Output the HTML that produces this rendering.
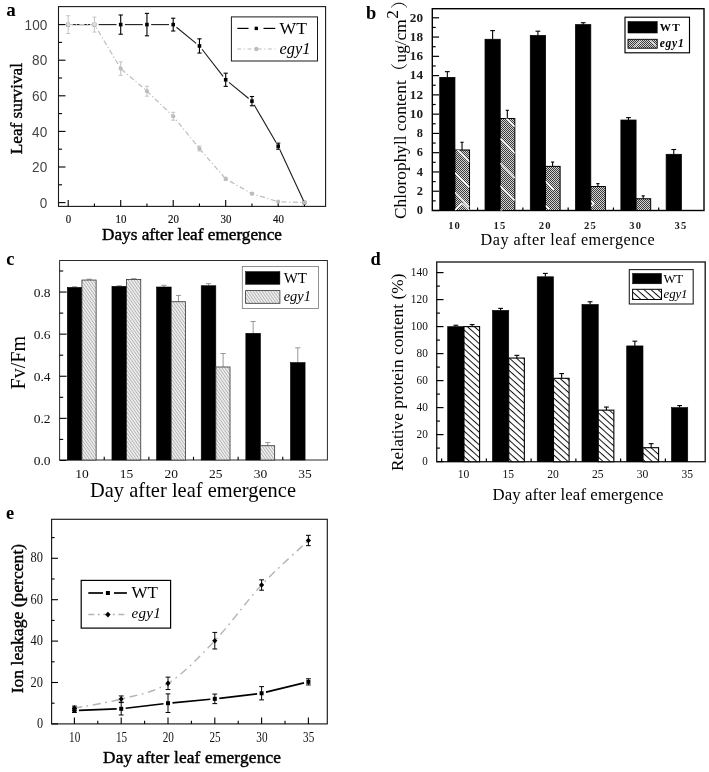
<!DOCTYPE html>
<html lang="en"><head><meta charset="utf-8"><title>Figure</title>
<style>html,body{margin:0;padding:0;background:#fff;}svg{display:block}</style></head><body>
<svg width="709" height="772" viewBox="0 0 709 772">
<defs>
<pattern id="pb" patternUnits="userSpaceOnUse" width="2" height="2"><rect width="2" height="2" fill="#d4d4d4"/><rect width="1" height="1" fill="#3a3a3a"/><rect x="1" y="1" width="1" height="1" fill="#3a3a3a"/></pattern>
<pattern id="pc" patternUnits="userSpaceOnUse" width="2.4" height="2.4" patternTransform="rotate(55)"><rect width="2.4" height="2.4" fill="#f0f0f0"/><rect width="2.4" height="0.9" fill="#b0b0b0"/></pattern>
<pattern id="pd" patternUnits="userSpaceOnUse" width="4.7" height="4.7" patternTransform="rotate(42)"><rect width="4.7" height="4.7" fill="#fff"/><rect width="4.7" height="1.0" fill="#111"/></pattern>
<filter id="soft" x="0" y="0" width="709" height="772" filterUnits="userSpaceOnUse" color-interpolation-filters="sRGB"><feGaussianBlur stdDeviation="0.35"/></filter>
</defs>
<rect width="709" height="772" fill="#fff"/>
<g filter="url(#soft)">
<rect width="709" height="772" fill="#fff"/>
<rect x="58.50" y="6.60" width="267.10" height="199.80" fill="none" stroke="#1a1a1a" stroke-width="1.1" />
<line x1="58.50" y1="202.60" x2="65.50" y2="202.60" stroke="#000" stroke-width="1.1" />
<line x1="58.50" y1="184.80" x2="62.00" y2="184.80" stroke="#000" stroke-width="1.1" />
<line x1="58.50" y1="167.00" x2="65.50" y2="167.00" stroke="#000" stroke-width="1.1" />
<line x1="58.50" y1="149.20" x2="62.00" y2="149.20" stroke="#000" stroke-width="1.1" />
<line x1="58.50" y1="131.40" x2="65.50" y2="131.40" stroke="#000" stroke-width="1.1" />
<line x1="58.50" y1="113.60" x2="62.00" y2="113.60" stroke="#000" stroke-width="1.1" />
<line x1="58.50" y1="95.80" x2="65.50" y2="95.80" stroke="#000" stroke-width="1.1" />
<line x1="58.50" y1="78.00" x2="62.00" y2="78.00" stroke="#000" stroke-width="1.1" />
<line x1="58.50" y1="60.20" x2="65.50" y2="60.20" stroke="#000" stroke-width="1.1" />
<line x1="58.50" y1="42.40" x2="62.00" y2="42.40" stroke="#000" stroke-width="1.1" />
<line x1="58.50" y1="24.60" x2="65.50" y2="24.60" stroke="#000" stroke-width="1.1" />
<line x1="68.20" y1="206.40" x2="68.20" y2="199.90" stroke="#000" stroke-width="1.1" />
<line x1="94.45" y1="206.40" x2="94.45" y2="203.40" stroke="#000" stroke-width="1.1" />
<line x1="120.70" y1="206.40" x2="120.70" y2="199.90" stroke="#000" stroke-width="1.1" />
<line x1="146.95" y1="206.40" x2="146.95" y2="203.40" stroke="#000" stroke-width="1.1" />
<line x1="173.20" y1="206.40" x2="173.20" y2="199.90" stroke="#000" stroke-width="1.1" />
<line x1="199.45" y1="206.40" x2="199.45" y2="203.40" stroke="#000" stroke-width="1.1" />
<line x1="225.70" y1="206.40" x2="225.70" y2="199.90" stroke="#000" stroke-width="1.1" />
<line x1="251.95" y1="206.40" x2="251.95" y2="203.40" stroke="#000" stroke-width="1.1" />
<line x1="278.20" y1="206.40" x2="278.20" y2="199.90" stroke="#000" stroke-width="1.1" />
<line x1="304.45" y1="206.40" x2="304.45" y2="203.40" stroke="#000" stroke-width="1.1" />
<text x="47.20" y="207.70" font-family='"Liberation Sans", sans-serif' font-size="14.3" text-anchor="end" font-weight="normal" font-style="normal" fill="#444" textLength="7.5" lengthAdjust="spacingAndGlyphs" >0</text>
<text x="47.20" y="172.10" font-family='"Liberation Sans", sans-serif' font-size="14.3" text-anchor="end" font-weight="normal" font-style="normal" fill="#444" textLength="15.1" lengthAdjust="spacingAndGlyphs" >20</text>
<text x="47.20" y="136.50" font-family='"Liberation Sans", sans-serif' font-size="14.3" text-anchor="end" font-weight="normal" font-style="normal" fill="#444" textLength="15.1" lengthAdjust="spacingAndGlyphs" >40</text>
<text x="47.20" y="100.90" font-family='"Liberation Sans", sans-serif' font-size="14.3" text-anchor="end" font-weight="normal" font-style="normal" fill="#444" textLength="15.1" lengthAdjust="spacingAndGlyphs" >60</text>
<text x="47.20" y="65.30" font-family='"Liberation Sans", sans-serif' font-size="14.3" text-anchor="end" font-weight="normal" font-style="normal" fill="#444" textLength="15.1" lengthAdjust="spacingAndGlyphs" >80</text>
<text x="47.20" y="29.70" font-family='"Liberation Sans", sans-serif' font-size="14.3" text-anchor="end" font-weight="normal" font-style="normal" fill="#444" textLength="22.6" lengthAdjust="spacingAndGlyphs" >100</text>
<text x="68.50" y="223.40" font-family='"Liberation Serif", serif' font-size="13" text-anchor="middle" font-weight="normal" font-style="normal" fill="#111" textLength="5.4" lengthAdjust="spacingAndGlyphs" stroke="#111" stroke-width="0.2">0</text>
<text x="121.00" y="223.40" font-family='"Liberation Serif", serif' font-size="13" text-anchor="middle" font-weight="normal" font-style="normal" fill="#111" textLength="10.9" lengthAdjust="spacingAndGlyphs" stroke="#111" stroke-width="0.2">10</text>
<text x="173.50" y="223.40" font-family='"Liberation Serif", serif' font-size="13" text-anchor="middle" font-weight="normal" font-style="normal" fill="#111" textLength="10.9" lengthAdjust="spacingAndGlyphs" stroke="#111" stroke-width="0.2">20</text>
<text x="226.00" y="223.40" font-family='"Liberation Serif", serif' font-size="13" text-anchor="middle" font-weight="normal" font-style="normal" fill="#111" textLength="10.9" lengthAdjust="spacingAndGlyphs" stroke="#111" stroke-width="0.2">30</text>
<text x="278.50" y="223.40" font-family='"Liberation Serif", serif' font-size="13" text-anchor="middle" font-weight="normal" font-style="normal" fill="#111" textLength="10.9" lengthAdjust="spacingAndGlyphs" stroke="#111" stroke-width="0.2">40</text>
<text x="192.00" y="239.80" font-family='"Liberation Serif", serif' font-size="17.2" text-anchor="middle" font-weight="normal" font-style="normal" fill="#000" textLength="180" lengthAdjust="spacing" stroke="#000" stroke-width="0.45">Days after leaf emergence</text>
<text x="21.80" y="108.60" font-family='"Liberation Serif", serif' font-size="17.2" text-anchor="middle" font-weight="normal" font-style="normal" fill="#000" transform="rotate(-90 21.80 108.60)" stroke="#000" stroke-width="0.4">Leaf survival</text>
<text x="6.20" y="16.30" font-family='"Liberation Serif", serif' font-size="19" text-anchor="start" font-weight="bold" font-style="normal" fill="#000" >a</text>
<line x1="72.40" y1="24.60" x2="90.25" y2="24.60" stroke="#1c1c1c" stroke-width="1.1" />
<line x1="98.65" y1="24.60" x2="116.50" y2="24.60" stroke="#1c1c1c" stroke-width="1.1" />
<line x1="124.90" y1="24.60" x2="142.75" y2="24.60" stroke="#1c1c1c" stroke-width="1.1" />
<line x1="151.15" y1="24.60" x2="169.00" y2="24.60" stroke="#1c1c1c" stroke-width="1.1" />
<line x1="176.46" y1="27.25" x2="196.19" y2="43.31" stroke="#1c1c1c" stroke-width="1.1" />
<line x1="202.03" y1="49.28" x2="223.12" y2="76.46" stroke="#1c1c1c" stroke-width="1.1" />
<line x1="228.96" y1="82.43" x2="248.69" y2="98.49" stroke="#1c1c1c" stroke-width="1.1" />
<line x1="254.07" y1="104.77" x2="276.08" y2="142.55" stroke="#1c1c1c" stroke-width="1.1" />
<line x1="279.97" y1="149.98" x2="304.24" y2="202.15" stroke="#1c1c1c" stroke-width="1.1" />
<line x1="120.70" y1="14.99" x2="120.70" y2="34.21" stroke="#000" stroke-width="1.1" />
<line x1="118.60" y1="14.99" x2="122.80" y2="14.99" stroke="#000" stroke-width="1.1" />
<line x1="118.60" y1="34.21" x2="122.80" y2="34.21" stroke="#000" stroke-width="1.1" />
<line x1="146.95" y1="13.39" x2="146.95" y2="35.81" stroke="#000" stroke-width="1.1" />
<line x1="144.85" y1="13.39" x2="149.05" y2="13.39" stroke="#000" stroke-width="1.1" />
<line x1="144.85" y1="35.81" x2="149.05" y2="35.81" stroke="#000" stroke-width="1.1" />
<line x1="173.20" y1="18.19" x2="173.20" y2="31.01" stroke="#000" stroke-width="1.1" />
<line x1="171.10" y1="18.19" x2="175.30" y2="18.19" stroke="#000" stroke-width="1.1" />
<line x1="171.10" y1="31.01" x2="175.30" y2="31.01" stroke="#000" stroke-width="1.1" />
<line x1="199.45" y1="38.84" x2="199.45" y2="53.08" stroke="#000" stroke-width="1.1" />
<line x1="197.35" y1="38.84" x2="201.55" y2="38.84" stroke="#000" stroke-width="1.1" />
<line x1="197.35" y1="53.08" x2="201.55" y2="53.08" stroke="#000" stroke-width="1.1" />
<line x1="225.70" y1="73.19" x2="225.70" y2="86.37" stroke="#000" stroke-width="1.1" />
<line x1="223.60" y1="73.19" x2="227.80" y2="73.19" stroke="#000" stroke-width="1.1" />
<line x1="223.60" y1="86.37" x2="227.80" y2="86.37" stroke="#000" stroke-width="1.1" />
<line x1="251.95" y1="96.51" x2="251.95" y2="105.77" stroke="#000" stroke-width="1.1" />
<line x1="249.85" y1="96.51" x2="254.05" y2="96.51" stroke="#000" stroke-width="1.1" />
<line x1="249.85" y1="105.77" x2="254.05" y2="105.77" stroke="#000" stroke-width="1.1" />
<line x1="278.20" y1="143.15" x2="278.20" y2="149.20" stroke="#000" stroke-width="1.1" />
<line x1="276.10" y1="143.15" x2="280.30" y2="143.15" stroke="#000" stroke-width="1.1" />
<line x1="276.10" y1="149.20" x2="280.30" y2="149.20" stroke="#000" stroke-width="1.1" />
<rect x="66.40" y="22.80" width="3.60" height="3.60" fill="#000" stroke="none" stroke-width="0" />
<rect x="92.65" y="22.80" width="3.60" height="3.60" fill="#000" stroke="none" stroke-width="0" />
<rect x="118.90" y="22.80" width="3.60" height="3.60" fill="#000" stroke="none" stroke-width="0" />
<rect x="145.15" y="22.80" width="3.60" height="3.60" fill="#000" stroke="none" stroke-width="0" />
<rect x="171.40" y="22.80" width="3.60" height="3.60" fill="#000" stroke="none" stroke-width="0" />
<rect x="197.65" y="44.16" width="3.60" height="3.60" fill="#000" stroke="none" stroke-width="0" />
<rect x="223.90" y="77.98" width="3.60" height="3.60" fill="#000" stroke="none" stroke-width="0" />
<rect x="250.15" y="99.34" width="3.60" height="3.60" fill="#000" stroke="none" stroke-width="0" />
<rect x="276.40" y="144.37" width="3.60" height="3.60" fill="#000" stroke="none" stroke-width="0" />
<rect x="302.65" y="200.80" width="3.60" height="3.60" fill="#000" stroke="none" stroke-width="0" />
<polyline points="68.20,24.60 94.45,24.60 120.70,68.57 146.95,91.17 173.20,116.27 199.45,148.49 225.70,178.93 251.95,193.70 278.20,201.71 304.45,202.60" fill="none" stroke="#bdbdbd" stroke-width="1.2" stroke-dasharray="5 2.5 1.2 2.5"/>
<line x1="68.20" y1="15.70" x2="68.20" y2="33.50" stroke="#c6c6c6" stroke-width="1.05" />
<line x1="66.20" y1="15.70" x2="70.20" y2="15.70" stroke="#c6c6c6" stroke-width="1.05" />
<line x1="66.20" y1="33.50" x2="70.20" y2="33.50" stroke="#c6c6c6" stroke-width="1.05" />
<line x1="94.45" y1="17.12" x2="94.45" y2="32.08" stroke="#c6c6c6" stroke-width="1.05" />
<line x1="92.45" y1="17.12" x2="96.45" y2="17.12" stroke="#c6c6c6" stroke-width="1.05" />
<line x1="92.45" y1="32.08" x2="96.45" y2="32.08" stroke="#c6c6c6" stroke-width="1.05" />
<line x1="120.70" y1="61.80" x2="120.70" y2="75.33" stroke="#c6c6c6" stroke-width="1.05" />
<line x1="118.70" y1="61.80" x2="122.70" y2="61.80" stroke="#c6c6c6" stroke-width="1.05" />
<line x1="118.70" y1="75.33" x2="122.70" y2="75.33" stroke="#c6c6c6" stroke-width="1.05" />
<line x1="146.95" y1="86.19" x2="146.95" y2="96.16" stroke="#c6c6c6" stroke-width="1.05" />
<line x1="144.95" y1="86.19" x2="148.95" y2="86.19" stroke="#c6c6c6" stroke-width="1.05" />
<line x1="144.95" y1="96.16" x2="148.95" y2="96.16" stroke="#c6c6c6" stroke-width="1.05" />
<line x1="173.20" y1="112.35" x2="173.20" y2="120.19" stroke="#c6c6c6" stroke-width="1.05" />
<line x1="171.20" y1="112.35" x2="175.20" y2="112.35" stroke="#c6c6c6" stroke-width="1.05" />
<line x1="171.20" y1="120.19" x2="175.20" y2="120.19" stroke="#c6c6c6" stroke-width="1.05" />
<line x1="199.45" y1="146.00" x2="199.45" y2="150.98" stroke="#c6c6c6" stroke-width="1.05" />
<line x1="197.45" y1="146.00" x2="201.45" y2="146.00" stroke="#c6c6c6" stroke-width="1.05" />
<line x1="197.45" y1="150.98" x2="201.45" y2="150.98" stroke="#c6c6c6" stroke-width="1.05" />
<line x1="225.70" y1="177.32" x2="225.70" y2="180.53" stroke="#c6c6c6" stroke-width="1.05" />
<line x1="223.70" y1="177.32" x2="227.70" y2="177.32" stroke="#c6c6c6" stroke-width="1.05" />
<line x1="223.70" y1="180.53" x2="227.70" y2="180.53" stroke="#c6c6c6" stroke-width="1.05" />
<line x1="251.95" y1="192.63" x2="251.95" y2="194.77" stroke="#c6c6c6" stroke-width="1.05" />
<line x1="249.95" y1="192.63" x2="253.95" y2="192.63" stroke="#c6c6c6" stroke-width="1.05" />
<line x1="249.95" y1="194.77" x2="253.95" y2="194.77" stroke="#c6c6c6" stroke-width="1.05" />
<circle cx="68.20" cy="24.60" r="2.1" fill="#dcdcdc"/>
<circle cx="94.45" cy="24.60" r="2.1" fill="#dcdcdc"/>
<circle cx="120.70" cy="68.57" r="2.1" fill="#bdbdbd"/>
<circle cx="146.95" cy="91.17" r="2.1" fill="#bdbdbd"/>
<circle cx="173.20" cy="116.27" r="2.1" fill="#bdbdbd"/>
<circle cx="199.45" cy="148.49" r="2.1" fill="#bdbdbd"/>
<circle cx="225.70" cy="178.93" r="2.1" fill="#bdbdbd"/>
<circle cx="251.95" cy="193.70" r="2.1" fill="#bdbdbd"/>
<circle cx="278.20" cy="201.71" r="2.1" fill="#bdbdbd"/>
<circle cx="304.45" cy="202.60" r="2.1" fill="#bdbdbd"/>
<rect x="231.40" y="16.90" width="86.10" height="44.10" fill="#fff" stroke="#1a1a1a" stroke-width="1.0" />
<line x1="237.30" y1="28.40" x2="248.50" y2="28.40" stroke="#000" stroke-width="1.2" />
<line x1="263.50" y1="28.40" x2="275.30" y2="28.40" stroke="#000" stroke-width="1.2" />
<rect x="254.60" y="26.70" width="3.40" height="3.40" fill="#000" stroke="none" stroke-width="0" />
<line x1="237.3" y1="49" x2="275.3" y2="49" stroke="#bdbdbd" stroke-width="1.1" stroke-dasharray="4 2.5 1.2 2.5"/>
<circle cx="256.3" cy="49" r="2.2" fill="#bdbdbd"/>
<text x="279.60" y="34.30" font-family='"Liberation Serif", serif' font-size="17.6" text-anchor="start" font-weight="normal" font-style="normal" fill="#000" >WT</text>
<text x="279.60" y="54.40" font-family='"Liberation Serif", serif' font-size="16.4" text-anchor="start" font-weight="normal" font-style="italic" fill="#000" >egy1</text>
<rect x="432.30" y="8.70" width="271.70" height="201.80" fill="none" stroke="#000" stroke-width="1.4" />
<line x1="432.30" y1="210.50" x2="439.10" y2="210.50" stroke="#000" stroke-width="1.2" />
<line x1="432.30" y1="200.87" x2="435.70" y2="200.87" stroke="#000" stroke-width="1.2" />
<line x1="432.30" y1="191.23" x2="439.10" y2="191.23" stroke="#000" stroke-width="1.2" />
<line x1="432.30" y1="181.59" x2="435.70" y2="181.59" stroke="#000" stroke-width="1.2" />
<line x1="432.30" y1="171.96" x2="439.10" y2="171.96" stroke="#000" stroke-width="1.2" />
<line x1="432.30" y1="162.32" x2="435.70" y2="162.32" stroke="#000" stroke-width="1.2" />
<line x1="432.30" y1="152.69" x2="439.10" y2="152.69" stroke="#000" stroke-width="1.2" />
<line x1="432.30" y1="143.06" x2="435.70" y2="143.06" stroke="#000" stroke-width="1.2" />
<line x1="432.30" y1="133.42" x2="439.10" y2="133.42" stroke="#000" stroke-width="1.2" />
<line x1="432.30" y1="123.78" x2="435.70" y2="123.78" stroke="#000" stroke-width="1.2" />
<line x1="432.30" y1="114.15" x2="439.10" y2="114.15" stroke="#000" stroke-width="1.2" />
<line x1="432.30" y1="104.52" x2="435.70" y2="104.52" stroke="#000" stroke-width="1.2" />
<line x1="432.30" y1="94.88" x2="439.10" y2="94.88" stroke="#000" stroke-width="1.2" />
<line x1="432.30" y1="85.25" x2="435.70" y2="85.25" stroke="#000" stroke-width="1.2" />
<line x1="432.30" y1="75.61" x2="439.10" y2="75.61" stroke="#000" stroke-width="1.2" />
<line x1="432.30" y1="65.97" x2="435.70" y2="65.97" stroke="#000" stroke-width="1.2" />
<line x1="432.30" y1="56.34" x2="439.10" y2="56.34" stroke="#000" stroke-width="1.2" />
<line x1="432.30" y1="46.71" x2="435.70" y2="46.71" stroke="#000" stroke-width="1.2" />
<line x1="432.30" y1="37.07" x2="439.10" y2="37.07" stroke="#000" stroke-width="1.2" />
<line x1="432.30" y1="27.44" x2="435.70" y2="27.44" stroke="#000" stroke-width="1.2" />
<line x1="432.30" y1="17.80" x2="439.10" y2="17.80" stroke="#000" stroke-width="1.2" />
<line x1="477.58" y1="210.50" x2="477.58" y2="207.50" stroke="#000" stroke-width="1.2" />
<line x1="522.87" y1="210.50" x2="522.87" y2="207.50" stroke="#000" stroke-width="1.2" />
<line x1="568.15" y1="210.50" x2="568.15" y2="207.50" stroke="#000" stroke-width="1.2" />
<line x1="613.43" y1="210.50" x2="613.43" y2="207.50" stroke="#000" stroke-width="1.2" />
<line x1="658.72" y1="210.50" x2="658.72" y2="207.50" stroke="#000" stroke-width="1.2" />
<text x="423.00" y="214.30" font-family='"Liberation Serif", serif' font-size="11.6" text-anchor="end" font-weight="bold" font-style="normal" fill="#1c1c1c" textLength="6.2" lengthAdjust="spacingAndGlyphs" >0</text>
<text x="423.00" y="195.03" font-family='"Liberation Serif", serif' font-size="11.6" text-anchor="end" font-weight="bold" font-style="normal" fill="#1c1c1c" textLength="6.2" lengthAdjust="spacingAndGlyphs" >2</text>
<text x="423.00" y="175.76" font-family='"Liberation Serif", serif' font-size="11.6" text-anchor="end" font-weight="bold" font-style="normal" fill="#1c1c1c" textLength="6.2" lengthAdjust="spacingAndGlyphs" >4</text>
<text x="423.00" y="156.49" font-family='"Liberation Serif", serif' font-size="11.6" text-anchor="end" font-weight="bold" font-style="normal" fill="#1c1c1c" textLength="6.2" lengthAdjust="spacingAndGlyphs" >6</text>
<text x="423.00" y="137.22" font-family='"Liberation Serif", serif' font-size="11.6" text-anchor="end" font-weight="bold" font-style="normal" fill="#1c1c1c" textLength="6.2" lengthAdjust="spacingAndGlyphs" >8</text>
<text x="423.00" y="117.95" font-family='"Liberation Serif", serif' font-size="11.6" text-anchor="end" font-weight="bold" font-style="normal" fill="#1c1c1c" textLength="13.2" lengthAdjust="spacingAndGlyphs" >10</text>
<text x="423.00" y="98.68" font-family='"Liberation Serif", serif' font-size="11.6" text-anchor="end" font-weight="bold" font-style="normal" fill="#1c1c1c" textLength="13.2" lengthAdjust="spacingAndGlyphs" >12</text>
<text x="423.00" y="79.41" font-family='"Liberation Serif", serif' font-size="11.6" text-anchor="end" font-weight="bold" font-style="normal" fill="#1c1c1c" textLength="13.2" lengthAdjust="spacingAndGlyphs" >14</text>
<text x="423.00" y="60.14" font-family='"Liberation Serif", serif' font-size="11.6" text-anchor="end" font-weight="bold" font-style="normal" fill="#1c1c1c" textLength="13.2" lengthAdjust="spacingAndGlyphs" >16</text>
<text x="423.00" y="40.87" font-family='"Liberation Serif", serif' font-size="11.6" text-anchor="end" font-weight="bold" font-style="normal" fill="#1c1c1c" textLength="13.2" lengthAdjust="spacingAndGlyphs" >18</text>
<text x="423.00" y="21.60" font-family='"Liberation Serif", serif' font-size="11.6" text-anchor="end" font-weight="bold" font-style="normal" fill="#1c1c1c" textLength="13.2" lengthAdjust="spacingAndGlyphs" >20</text>
<line x1="447.34" y1="77.44" x2="447.34" y2="71.66" stroke="#000" stroke-width="1.1" />
<line x1="444.94" y1="71.66" x2="449.74" y2="71.66" stroke="#000" stroke-width="1.1" />
<rect x="439.74" y="77.44" width="15.20" height="133.06" fill="#000" stroke="#000" stroke-width="0.8" />
<line x1="462.04" y1="149.99" x2="462.04" y2="142.28" stroke="#000" stroke-width="1.1" />
<line x1="460.44" y1="142.28" x2="463.64" y2="142.28" stroke="#000" stroke-width="1.1" />
<g><clipPath id="cb0"><rect x="454.94" y="149.99" width="14.60" height="60.51"/></clipPath>
<rect x="454.94" y="149.99" width="14.60" height="60.51" fill="url(#pb)" stroke="#000" stroke-width="1.0" />
<g clip-path="url(#cb0)" stroke="#fff" stroke-width="1.35">
<line x1="454.94" y1="147.40" x2="469.54" y2="162.00"/>
<line x1="454.94" y1="172.70" x2="469.54" y2="187.30"/>
<line x1="454.94" y1="192.30" x2="469.54" y2="206.90"/>
<line x1="454.94" y1="210.30" x2="462.24" y2="203.30"/>
<line x1="462.24" y1="203.30" x2="469.54" y2="210.30"/>
</g></g>
<text x="454.64" y="228.60" font-family='"Liberation Serif", serif' font-size="10.6" text-anchor="middle" font-weight="bold" font-style="normal" fill="#1c1c1c" letter-spacing="1.2">10</text>
<line x1="492.62" y1="39.29" x2="492.62" y2="30.61" stroke="#000" stroke-width="1.1" />
<line x1="490.23" y1="30.61" x2="495.02" y2="30.61" stroke="#000" stroke-width="1.1" />
<rect x="485.03" y="39.29" width="15.20" height="171.21" fill="#000" stroke="#000" stroke-width="0.8" />
<line x1="507.33" y1="118.49" x2="507.33" y2="110.30" stroke="#000" stroke-width="1.1" />
<line x1="505.73" y1="110.30" x2="508.93" y2="110.30" stroke="#000" stroke-width="1.1" />
<g><clipPath id="cb1"><rect x="500.23" y="118.49" width="14.60" height="92.01"/></clipPath>
<rect x="500.23" y="118.49" width="14.60" height="92.01" fill="url(#pb)" stroke="#000" stroke-width="1.0" />
<g clip-path="url(#cb1)" stroke="#fff" stroke-width="1.35">
<line x1="500.23" y1="111.90" x2="514.83" y2="126.50"/>
<line x1="500.23" y1="138.70" x2="514.83" y2="153.30"/>
<line x1="500.23" y1="163.30" x2="514.83" y2="177.90"/>
<line x1="500.23" y1="185.70" x2="514.83" y2="200.30"/>
<line x1="500.23" y1="209.50" x2="514.83" y2="224.10"/>
</g></g>
<text x="499.93" y="228.60" font-family='"Liberation Serif", serif' font-size="10.6" text-anchor="middle" font-weight="bold" font-style="normal" fill="#1c1c1c" letter-spacing="1.2">15</text>
<line x1="537.91" y1="35.53" x2="537.91" y2="31.19" stroke="#000" stroke-width="1.1" />
<line x1="535.51" y1="31.19" x2="540.31" y2="31.19" stroke="#000" stroke-width="1.1" />
<rect x="530.31" y="35.53" width="15.20" height="174.97" fill="#000" stroke="#000" stroke-width="0.8" />
<line x1="552.61" y1="166.37" x2="552.61" y2="162.04" stroke="#000" stroke-width="1.1" />
<line x1="551.01" y1="162.04" x2="554.21" y2="162.04" stroke="#000" stroke-width="1.1" />
<g><clipPath id="cb2"><rect x="545.51" y="166.37" width="14.60" height="44.13"/></clipPath>
<rect x="545.51" y="166.37" width="14.60" height="44.13" fill="url(#pb)" stroke="#000" stroke-width="1.0" />
<g clip-path="url(#cb2)" stroke="#fff" stroke-width="1.35">
<line x1="545.51" y1="180.90" x2="553.61" y2="189.80"/>
<line x1="545.51" y1="205.50" x2="549.01" y2="209.00"/>
</g></g>
<text x="545.21" y="228.60" font-family='"Liberation Serif", serif' font-size="10.6" text-anchor="middle" font-weight="bold" font-style="normal" fill="#1c1c1c" letter-spacing="1.2">20</text>
<line x1="583.19" y1="24.64" x2="583.19" y2="22.71" stroke="#000" stroke-width="1.1" />
<line x1="580.79" y1="22.71" x2="585.59" y2="22.71" stroke="#000" stroke-width="1.1" />
<rect x="575.59" y="24.64" width="15.20" height="185.86" fill="#000" stroke="#000" stroke-width="0.8" />
<line x1="597.89" y1="186.51" x2="597.89" y2="183.62" stroke="#000" stroke-width="1.1" />
<line x1="596.29" y1="183.62" x2="599.49" y2="183.62" stroke="#000" stroke-width="1.1" />
<g><clipPath id="cb3"><rect x="590.79" y="186.51" width="14.60" height="23.99"/></clipPath>
<rect x="590.79" y="186.51" width="14.60" height="23.99" fill="url(#pb)" stroke="#000" stroke-width="1.0" />
<g clip-path="url(#cb3)" stroke="#fff" stroke-width="1.35">
<line x1="591.29" y1="201.00" x2="594.09" y2="203.80"/>
<line x1="594.09" y1="203.80" x2="591.29" y2="206.30"/>
</g></g>
<text x="590.49" y="228.60" font-family='"Liberation Serif", serif' font-size="10.6" text-anchor="middle" font-weight="bold" font-style="normal" fill="#1c1c1c" letter-spacing="1.2">25</text>
<line x1="628.48" y1="120.03" x2="628.48" y2="117.62" stroke="#000" stroke-width="1.1" />
<line x1="626.08" y1="117.62" x2="630.88" y2="117.62" stroke="#000" stroke-width="1.1" />
<rect x="620.88" y="120.03" width="15.20" height="90.47" fill="#000" stroke="#000" stroke-width="0.8" />
<line x1="643.18" y1="198.75" x2="643.18" y2="195.85" stroke="#000" stroke-width="1.1" />
<line x1="641.58" y1="195.85" x2="644.78" y2="195.85" stroke="#000" stroke-width="1.1" />
<g><clipPath id="cb4"><rect x="636.08" y="198.75" width="14.60" height="11.75"/></clipPath>
<rect x="636.08" y="198.75" width="14.60" height="11.75" fill="url(#pb)" stroke="#000" stroke-width="1.0" />
<g clip-path="url(#cb4)" stroke="#fff" stroke-width="1.35">
</g></g>
<text x="635.78" y="228.60" font-family='"Liberation Serif", serif' font-size="10.6" text-anchor="middle" font-weight="bold" font-style="normal" fill="#1c1c1c" letter-spacing="1.2">30</text>
<line x1="673.76" y1="154.33" x2="673.76" y2="149.51" stroke="#000" stroke-width="1.1" />
<line x1="671.36" y1="149.51" x2="676.16" y2="149.51" stroke="#000" stroke-width="1.1" />
<rect x="666.16" y="154.33" width="15.20" height="56.17" fill="#000" stroke="#000" stroke-width="0.8" />
<text x="681.06" y="228.60" font-family='"Liberation Serif", serif' font-size="10.6" text-anchor="middle" font-weight="bold" font-style="normal" fill="#1c1c1c" letter-spacing="1.2">35</text>
<text x="567.60" y="244.60" font-family='"Liberation Serif", serif' font-size="16.2" text-anchor="middle" font-weight="normal" font-style="normal" fill="#000" textLength="174" lengthAdjust="spacing" >Day after leaf emergence</text>
<g transform="translate(405.5,219) rotate(-90)">
<text x='0' y='0' font-family='"Liberation Serif","Noto Serif CJK SC",serif' font-size='17.3' fill='#000'>Chlorophyll content<tspan dx='0'>（</tspan><tspan dx='0.5'>ug/cm</tspan><tspan dy='-7.4' dx='0.5'>2</tspan><tspan dy='7.4' dx='1.5'>）</tspan></text>
</g>
<text x="366.00" y="19.00" font-family='"Liberation Serif", serif' font-size="18.4" text-anchor="start" font-weight="bold" font-style="normal" fill="#000" >b</text>
<rect x="625.00" y="17.20" width="64.50" height="35.60" fill="#fff" stroke="#000" stroke-width="1.15" />
<rect x="628.00" y="21.60" width="29.20" height="11.40" fill="#000" stroke="#000" stroke-width="0.6" />
<rect x="628.00" y="39.30" width="29.20" height="8.90" fill="url(#pb)" stroke="#000" stroke-width="0.9" />
<line x1="634" y1="47.5" x2="641" y2="40.5" stroke="#fff" stroke-width="0.9"/><line x1="650" y1="40.5" x2="656.5" y2="46" stroke="#fff" stroke-width="0.9"/><line x1="636" y1="48" x2="642" y2="42" stroke="#fff" stroke-width="0.7"/>
<text x="659.70" y="31.00" font-family='"Liberation Serif", serif' font-size="11.2" text-anchor="start" font-weight="bold" font-style="normal" fill="#000" textLength="20" lengthAdjust="spacing" >WT</text>
<text x="659.70" y="47.00" font-family='"Liberation Serif", serif' font-size="11.6" text-anchor="start" font-weight="bold" font-style="italic" fill="#000" textLength="24" lengthAdjust="spacing" >egy1</text>
<rect x="59.60" y="260.50" width="267.80" height="199.50" fill="none" stroke="#2a2a2a" stroke-width="1.0" />
<line x1="59.60" y1="460.45" x2="66.60" y2="460.45" stroke="#000" stroke-width="1.1" />
<line x1="59.60" y1="439.40" x2="63.20" y2="439.40" stroke="#000" stroke-width="1.1" />
<line x1="59.60" y1="418.35" x2="66.60" y2="418.35" stroke="#000" stroke-width="1.1" />
<line x1="59.60" y1="397.30" x2="63.20" y2="397.30" stroke="#000" stroke-width="1.1" />
<line x1="59.60" y1="376.25" x2="66.60" y2="376.25" stroke="#000" stroke-width="1.1" />
<line x1="59.60" y1="355.20" x2="63.20" y2="355.20" stroke="#000" stroke-width="1.1" />
<line x1="59.60" y1="334.15" x2="66.60" y2="334.15" stroke="#000" stroke-width="1.1" />
<line x1="59.60" y1="313.10" x2="63.20" y2="313.10" stroke="#000" stroke-width="1.1" />
<line x1="59.60" y1="292.05" x2="66.60" y2="292.05" stroke="#000" stroke-width="1.1" />
<line x1="59.60" y1="271.00" x2="63.20" y2="271.00" stroke="#000" stroke-width="1.1" />
<line x1="104.23" y1="460.00" x2="104.23" y2="456.80" stroke="#000" stroke-width="1.1" />
<line x1="148.87" y1="460.00" x2="148.87" y2="456.80" stroke="#000" stroke-width="1.1" />
<line x1="193.50" y1="460.00" x2="193.50" y2="456.80" stroke="#000" stroke-width="1.1" />
<line x1="238.13" y1="460.00" x2="238.13" y2="456.80" stroke="#000" stroke-width="1.1" />
<line x1="282.77" y1="460.00" x2="282.77" y2="456.80" stroke="#000" stroke-width="1.1" />
<text x="50.60" y="464.95" font-family='"Liberation Serif", serif' font-size="13.5" text-anchor="end" font-weight="normal" font-style="normal" fill="#111" >0.0</text>
<text x="50.60" y="422.85" font-family='"Liberation Serif", serif' font-size="13.5" text-anchor="end" font-weight="normal" font-style="normal" fill="#111" >0.2</text>
<text x="50.60" y="380.75" font-family='"Liberation Serif", serif' font-size="13.5" text-anchor="end" font-weight="normal" font-style="normal" fill="#111" >0.4</text>
<text x="50.60" y="338.65" font-family='"Liberation Serif", serif' font-size="13.5" text-anchor="end" font-weight="normal" font-style="normal" fill="#111" >0.6</text>
<text x="50.60" y="296.55" font-family='"Liberation Serif", serif' font-size="13.5" text-anchor="end" font-weight="normal" font-style="normal" fill="#111" >0.8</text>
<line x1="74.62" y1="287.42" x2="74.62" y2="286.79" stroke="#8c8c8c" stroke-width="0.9" />
<line x1="72.02" y1="286.79" x2="77.22" y2="286.79" stroke="#8c8c8c" stroke-width="0.9" />
<rect x="67.32" y="287.42" width="14.60" height="172.58" fill="#000" stroke="#000" stroke-width="0.6" />
<line x1="89.22" y1="280.05" x2="89.22" y2="279.21" stroke="#8c8c8c" stroke-width="0.9" />
<line x1="86.62" y1="279.21" x2="91.82" y2="279.21" stroke="#8c8c8c" stroke-width="0.9" />
<rect x="81.92" y="280.05" width="14.20" height="179.95" fill="url(#pc)" stroke="#333" stroke-width="0.8" />
<text x="81.92" y="478.30" font-family='"Liberation Serif", serif' font-size="13.5" text-anchor="middle" font-weight="normal" font-style="normal" fill="#111" >10</text>
<line x1="119.25" y1="286.37" x2="119.25" y2="285.74" stroke="#8c8c8c" stroke-width="0.9" />
<line x1="116.65" y1="285.74" x2="121.85" y2="285.74" stroke="#8c8c8c" stroke-width="0.9" />
<rect x="111.95" y="286.37" width="14.60" height="173.63" fill="#000" stroke="#000" stroke-width="0.6" />
<line x1="133.85" y1="279.42" x2="133.85" y2="278.58" stroke="#8c8c8c" stroke-width="0.9" />
<line x1="131.25" y1="278.58" x2="136.45" y2="278.58" stroke="#8c8c8c" stroke-width="0.9" />
<rect x="126.55" y="279.42" width="14.20" height="180.58" fill="url(#pc)" stroke="#333" stroke-width="0.8" />
<text x="126.55" y="478.30" font-family='"Liberation Serif", serif' font-size="13.5" text-anchor="middle" font-weight="normal" font-style="normal" fill="#111" >15</text>
<line x1="163.88" y1="287.00" x2="163.88" y2="285.31" stroke="#8c8c8c" stroke-width="0.9" />
<line x1="161.28" y1="285.31" x2="166.48" y2="285.31" stroke="#8c8c8c" stroke-width="0.9" />
<rect x="156.58" y="287.00" width="14.60" height="173.00" fill="#000" stroke="#000" stroke-width="0.6" />
<line x1="178.48" y1="301.73" x2="178.48" y2="295.42" stroke="#8c8c8c" stroke-width="0.9" />
<line x1="175.88" y1="295.42" x2="181.08" y2="295.42" stroke="#8c8c8c" stroke-width="0.9" />
<rect x="171.18" y="301.73" width="14.20" height="158.27" fill="url(#pc)" stroke="#333" stroke-width="0.8" />
<text x="171.18" y="478.30" font-family='"Liberation Serif", serif' font-size="13.5" text-anchor="middle" font-weight="normal" font-style="normal" fill="#111" >20</text>
<line x1="208.52" y1="285.74" x2="208.52" y2="283.63" stroke="#8c8c8c" stroke-width="0.9" />
<line x1="205.92" y1="283.63" x2="211.12" y2="283.63" stroke="#8c8c8c" stroke-width="0.9" />
<rect x="201.22" y="285.74" width="14.60" height="174.26" fill="#000" stroke="#000" stroke-width="0.6" />
<line x1="223.12" y1="366.99" x2="223.12" y2="353.52" stroke="#8c8c8c" stroke-width="0.9" />
<line x1="220.52" y1="353.52" x2="225.72" y2="353.52" stroke="#8c8c8c" stroke-width="0.9" />
<rect x="215.82" y="366.99" width="14.20" height="93.01" fill="url(#pc)" stroke="#333" stroke-width="0.8" />
<text x="215.82" y="478.30" font-family='"Liberation Serif", serif' font-size="13.5" text-anchor="middle" font-weight="normal" font-style="normal" fill="#111" >25</text>
<line x1="253.15" y1="333.31" x2="253.15" y2="321.52" stroke="#8c8c8c" stroke-width="0.9" />
<line x1="250.55" y1="321.52" x2="255.75" y2="321.52" stroke="#8c8c8c" stroke-width="0.9" />
<rect x="245.85" y="333.31" width="14.60" height="126.69" fill="#000" stroke="#000" stroke-width="0.6" />
<line x1="267.75" y1="445.71" x2="267.75" y2="442.56" stroke="#8c8c8c" stroke-width="0.9" />
<line x1="265.15" y1="442.56" x2="270.35" y2="442.56" stroke="#8c8c8c" stroke-width="0.9" />
<rect x="260.45" y="445.71" width="14.20" height="14.29" fill="url(#pc)" stroke="#333" stroke-width="0.8" />
<text x="260.45" y="478.30" font-family='"Liberation Serif", serif' font-size="13.5" text-anchor="middle" font-weight="normal" font-style="normal" fill="#111" >30</text>
<line x1="297.78" y1="362.57" x2="297.78" y2="347.83" stroke="#8c8c8c" stroke-width="0.9" />
<line x1="295.18" y1="347.83" x2="300.38" y2="347.83" stroke="#8c8c8c" stroke-width="0.9" />
<rect x="290.48" y="362.57" width="14.60" height="97.43" fill="#000" stroke="#000" stroke-width="0.6" />
<text x="305.08" y="478.30" font-family='"Liberation Serif", serif' font-size="13.5" text-anchor="middle" font-weight="normal" font-style="normal" fill="#111" >35</text>
<text x="193.00" y="496.50" font-family='"Liberation Serif", serif' font-size="20.4" text-anchor="middle" font-weight="normal" font-style="normal" fill="#000" textLength="206" lengthAdjust="spacing" >Day after leaf emergence</text>
<text x="25.30" y="362.70" font-family='"Liberation Serif", serif' font-size="20" text-anchor="middle" font-weight="normal" font-style="normal" fill="#000" transform="rotate(-90 25.30 362.70)" >Fv/Fm</text>
<text x="6.20" y="264.70" font-family='"Liberation Serif", serif' font-size="18.4" text-anchor="start" font-weight="bold" font-style="normal" fill="#000" >c</text>
<rect x="242.30" y="266.50" width="76.20" height="41.90" fill="#fff" stroke="#777" stroke-width="0.8" />
<rect x="245.60" y="271.60" width="34.30" height="12.70" fill="#000" stroke="#000" stroke-width="0.5" />
<rect x="245.60" y="290.60" width="34.30" height="12.70" fill="url(#pc)" stroke="#333" stroke-width="0.8" />
<text x="283.70" y="283.00" font-family='"Liberation Serif", serif' font-size="15" text-anchor="start" font-weight="normal" font-style="normal" fill="#000" >WT</text>
<text x="283.70" y="300.80" font-family='"Liberation Serif", serif' font-size="14.4" text-anchor="start" font-weight="normal" font-style="italic" fill="#000" >egy1</text>
<rect x="436.70" y="262.00" width="268.50" height="199.70" fill="none" stroke="#222" stroke-width="1.4" />
<line x1="436.70" y1="461.60" x2="443.50" y2="461.60" stroke="#000" stroke-width="1.2" />
<line x1="436.70" y1="448.10" x2="439.90" y2="448.10" stroke="#000" stroke-width="1.2" />
<line x1="436.70" y1="434.60" x2="443.50" y2="434.60" stroke="#000" stroke-width="1.2" />
<line x1="436.70" y1="421.10" x2="439.90" y2="421.10" stroke="#000" stroke-width="1.2" />
<line x1="436.70" y1="407.60" x2="443.50" y2="407.60" stroke="#000" stroke-width="1.2" />
<line x1="436.70" y1="394.10" x2="439.90" y2="394.10" stroke="#000" stroke-width="1.2" />
<line x1="436.70" y1="380.60" x2="443.50" y2="380.60" stroke="#000" stroke-width="1.2" />
<line x1="436.70" y1="367.10" x2="439.90" y2="367.10" stroke="#000" stroke-width="1.2" />
<line x1="436.70" y1="353.60" x2="443.50" y2="353.60" stroke="#000" stroke-width="1.2" />
<line x1="436.70" y1="340.10" x2="439.90" y2="340.10" stroke="#000" stroke-width="1.2" />
<line x1="436.70" y1="326.60" x2="443.50" y2="326.60" stroke="#000" stroke-width="1.2" />
<line x1="436.70" y1="313.10" x2="439.90" y2="313.10" stroke="#000" stroke-width="1.2" />
<line x1="436.70" y1="299.60" x2="443.50" y2="299.60" stroke="#000" stroke-width="1.2" />
<line x1="436.70" y1="286.10" x2="439.90" y2="286.10" stroke="#000" stroke-width="1.2" />
<line x1="436.70" y1="272.60" x2="443.50" y2="272.60" stroke="#000" stroke-width="1.2" />
<line x1="441.62" y1="461.70" x2="441.62" y2="458.50" stroke="#000" stroke-width="1.2" />
<line x1="486.38" y1="461.70" x2="486.38" y2="458.50" stroke="#000" stroke-width="1.2" />
<line x1="531.12" y1="461.70" x2="531.12" y2="458.50" stroke="#000" stroke-width="1.2" />
<line x1="575.88" y1="461.70" x2="575.88" y2="458.50" stroke="#000" stroke-width="1.2" />
<line x1="620.62" y1="461.70" x2="620.62" y2="458.50" stroke="#000" stroke-width="1.2" />
<line x1="665.38" y1="461.70" x2="665.38" y2="458.50" stroke="#000" stroke-width="1.2" />
<text x="427.80" y="465.10" font-family='"Liberation Serif", serif' font-size="12.5" text-anchor="end" font-weight="normal" font-style="normal" fill="#111" textLength="5.5" lengthAdjust="spacingAndGlyphs" >0</text>
<text x="427.80" y="438.10" font-family='"Liberation Serif", serif' font-size="12.5" text-anchor="end" font-weight="normal" font-style="normal" fill="#111" textLength="11.3" lengthAdjust="spacingAndGlyphs" >20</text>
<text x="427.80" y="411.10" font-family='"Liberation Serif", serif' font-size="12.5" text-anchor="end" font-weight="normal" font-style="normal" fill="#111" textLength="11.3" lengthAdjust="spacingAndGlyphs" >40</text>
<text x="427.80" y="384.10" font-family='"Liberation Serif", serif' font-size="12.5" text-anchor="end" font-weight="normal" font-style="normal" fill="#111" textLength="11.3" lengthAdjust="spacingAndGlyphs" >60</text>
<text x="427.80" y="357.10" font-family='"Liberation Serif", serif' font-size="12.5" text-anchor="end" font-weight="normal" font-style="normal" fill="#111" textLength="11.3" lengthAdjust="spacingAndGlyphs" >80</text>
<text x="427.80" y="330.10" font-family='"Liberation Serif", serif' font-size="12.5" text-anchor="end" font-weight="normal" font-style="normal" fill="#111" textLength="17" lengthAdjust="spacingAndGlyphs" >100</text>
<text x="427.80" y="303.10" font-family='"Liberation Serif", serif' font-size="12.5" text-anchor="end" font-weight="normal" font-style="normal" fill="#111" textLength="17" lengthAdjust="spacingAndGlyphs" >120</text>
<text x="427.80" y="276.10" font-family='"Liberation Serif", serif' font-size="12.5" text-anchor="end" font-weight="normal" font-style="normal" fill="#111" textLength="17" lengthAdjust="spacingAndGlyphs" >140</text>
<line x1="455.85" y1="326.60" x2="455.85" y2="325.25" stroke="#000" stroke-width="1.1" />
<line x1="453.45" y1="325.25" x2="458.25" y2="325.25" stroke="#000" stroke-width="1.1" />
<rect x="447.70" y="326.60" width="16.30" height="135.10" fill="#000" stroke="#000" stroke-width="0.6" />
<line x1="472.15" y1="326.60" x2="472.15" y2="324.58" stroke="#000" stroke-width="1.1" />
<line x1="469.75" y1="324.58" x2="474.55" y2="324.58" stroke="#000" stroke-width="1.1" />
<rect x="464.00" y="326.60" width="15.60" height="135.10" fill="url(#pd)" stroke="#000" stroke-width="1.1" />
<text x="463.50" y="478.00" font-family='"Liberation Serif", serif' font-size="11.6" text-anchor="middle" font-weight="normal" font-style="normal" fill="#111" >10</text>
<line x1="500.60" y1="310.40" x2="500.60" y2="308.38" stroke="#000" stroke-width="1.1" />
<line x1="498.20" y1="308.38" x2="503.00" y2="308.38" stroke="#000" stroke-width="1.1" />
<rect x="492.45" y="310.40" width="16.30" height="151.30" fill="#000" stroke="#000" stroke-width="0.6" />
<line x1="516.90" y1="358.06" x2="516.90" y2="355.36" stroke="#000" stroke-width="1.1" />
<line x1="514.50" y1="355.36" x2="519.30" y2="355.36" stroke="#000" stroke-width="1.1" />
<rect x="508.75" y="358.06" width="15.60" height="103.64" fill="url(#pd)" stroke="#000" stroke-width="1.1" />
<text x="508.25" y="478.00" font-family='"Liberation Serif", serif' font-size="11.6" text-anchor="middle" font-weight="normal" font-style="normal" fill="#111" >15</text>
<line x1="545.35" y1="276.78" x2="545.35" y2="273.41" stroke="#000" stroke-width="1.1" />
<line x1="542.95" y1="273.41" x2="547.75" y2="273.41" stroke="#000" stroke-width="1.1" />
<rect x="537.20" y="276.78" width="16.30" height="184.92" fill="#000" stroke="#000" stroke-width="0.6" />
<line x1="561.65" y1="378.31" x2="561.65" y2="373.58" stroke="#000" stroke-width="1.1" />
<line x1="559.25" y1="373.58" x2="564.05" y2="373.58" stroke="#000" stroke-width="1.1" />
<rect x="553.50" y="378.31" width="15.60" height="83.39" fill="url(#pd)" stroke="#000" stroke-width="1.1" />
<text x="553.00" y="478.00" font-family='"Liberation Serif", serif' font-size="11.6" text-anchor="middle" font-weight="normal" font-style="normal" fill="#111" >20</text>
<line x1="590.10" y1="304.46" x2="590.10" y2="301.76" stroke="#000" stroke-width="1.1" />
<line x1="587.70" y1="301.76" x2="592.50" y2="301.76" stroke="#000" stroke-width="1.1" />
<rect x="581.95" y="304.46" width="16.30" height="157.24" fill="#000" stroke="#000" stroke-width="0.6" />
<line x1="606.40" y1="410.17" x2="606.40" y2="407.06" stroke="#000" stroke-width="1.1" />
<line x1="604.00" y1="407.06" x2="608.80" y2="407.06" stroke="#000" stroke-width="1.1" />
<rect x="598.25" y="410.17" width="15.60" height="51.53" fill="url(#pd)" stroke="#000" stroke-width="1.1" />
<text x="597.75" y="478.00" font-family='"Liberation Serif", serif' font-size="11.6" text-anchor="middle" font-weight="normal" font-style="normal" fill="#111" >25</text>
<line x1="634.85" y1="345.91" x2="634.85" y2="341.18" stroke="#000" stroke-width="1.1" />
<line x1="632.45" y1="341.18" x2="637.25" y2="341.18" stroke="#000" stroke-width="1.1" />
<rect x="626.70" y="345.91" width="16.30" height="115.79" fill="#000" stroke="#000" stroke-width="0.6" />
<line x1="651.15" y1="447.70" x2="651.15" y2="443.65" stroke="#000" stroke-width="1.1" />
<line x1="648.75" y1="443.65" x2="653.55" y2="443.65" stroke="#000" stroke-width="1.1" />
<rect x="643.00" y="447.70" width="15.60" height="14.00" fill="url(#pd)" stroke="#000" stroke-width="1.1" />
<text x="642.50" y="478.00" font-family='"Liberation Serif", serif' font-size="11.6" text-anchor="middle" font-weight="normal" font-style="normal" fill="#111" >30</text>
<line x1="679.60" y1="407.60" x2="679.60" y2="405.58" stroke="#000" stroke-width="1.1" />
<line x1="677.20" y1="405.58" x2="682.00" y2="405.58" stroke="#000" stroke-width="1.1" />
<rect x="671.45" y="407.60" width="16.30" height="54.10" fill="#000" stroke="#000" stroke-width="0.6" />
<text x="687.25" y="478.00" font-family='"Liberation Serif", serif' font-size="11.6" text-anchor="middle" font-weight="normal" font-style="normal" fill="#111" >35</text>
<text x="578.00" y="499.70" font-family='"Liberation Serif", serif' font-size="16.8" text-anchor="middle" font-weight="normal" font-style="normal" fill="#000" textLength="171" lengthAdjust="spacing" >Day after leaf emergence</text>
<text x="403.30" y="372.20" font-family='"Liberation Serif", serif' font-size="17.3" text-anchor="middle" font-weight="normal" font-style="normal" fill="#000" textLength="197.5" lengthAdjust="spacing" transform="rotate(-90 403.30 372.20)" >Relative protein content (%)</text>
<text x="370.50" y="265.20" font-family='"Liberation Serif", serif' font-size="18.4" text-anchor="start" font-weight="bold" font-style="normal" fill="#000" >d</text>
<rect x="629.30" y="269.60" width="63.90" height="34.40" fill="#fff" stroke="#222" stroke-width="1.1" />
<rect x="632.60" y="273.40" width="28.90" height="10.40" fill="#000" stroke="#000" stroke-width="0.5" />
<rect x="632.60" y="289.30" width="28.90" height="10.20" fill="url(#pd)" stroke="#000" stroke-width="1.0" />
<text x="663.50" y="282.50" font-family='"Liberation Serif", serif' font-size="12.8" text-anchor="start" font-weight="normal" font-style="normal" fill="#000" textLength="19.5" lengthAdjust="spacing" >WT</text>
<text x="663.50" y="297.70" font-family='"Liberation Serif", serif' font-size="12.8" text-anchor="start" font-weight="normal" font-style="italic" fill="#000" textLength="24" lengthAdjust="spacing" >egy1</text>
<rect x="51.60" y="519.30" width="275.70" height="204.60" fill="none" stroke="#1a1a1a" stroke-width="1.15" />
<line x1="51.60" y1="723.90" x2="58.00" y2="723.90" stroke="#000" stroke-width="1.1" />
<line x1="51.60" y1="703.20" x2="54.60" y2="703.20" stroke="#000" stroke-width="1.1" />
<line x1="51.60" y1="682.50" x2="58.00" y2="682.50" stroke="#000" stroke-width="1.1" />
<line x1="51.60" y1="661.80" x2="54.60" y2="661.80" stroke="#000" stroke-width="1.1" />
<line x1="51.60" y1="641.10" x2="58.00" y2="641.10" stroke="#000" stroke-width="1.1" />
<line x1="51.60" y1="620.40" x2="54.60" y2="620.40" stroke="#000" stroke-width="1.1" />
<line x1="51.60" y1="599.70" x2="58.00" y2="599.70" stroke="#000" stroke-width="1.1" />
<line x1="51.60" y1="579.00" x2="54.60" y2="579.00" stroke="#000" stroke-width="1.1" />
<line x1="51.60" y1="558.30" x2="58.00" y2="558.30" stroke="#000" stroke-width="1.1" />
<line x1="51.60" y1="537.60" x2="54.60" y2="537.60" stroke="#000" stroke-width="1.1" />
<line x1="74.40" y1="723.90" x2="74.40" y2="717.40" stroke="#000" stroke-width="1.1" />
<line x1="97.80" y1="723.90" x2="97.80" y2="720.70" stroke="#000" stroke-width="1.1" />
<line x1="121.20" y1="723.90" x2="121.20" y2="717.40" stroke="#000" stroke-width="1.1" />
<line x1="144.60" y1="723.90" x2="144.60" y2="720.70" stroke="#000" stroke-width="1.1" />
<line x1="168.00" y1="723.90" x2="168.00" y2="717.40" stroke="#000" stroke-width="1.1" />
<line x1="191.40" y1="723.90" x2="191.40" y2="720.70" stroke="#000" stroke-width="1.1" />
<line x1="214.80" y1="723.90" x2="214.80" y2="717.40" stroke="#000" stroke-width="1.1" />
<line x1="238.20" y1="723.90" x2="238.20" y2="720.70" stroke="#000" stroke-width="1.1" />
<line x1="261.60" y1="723.90" x2="261.60" y2="717.40" stroke="#000" stroke-width="1.1" />
<line x1="285.00" y1="723.90" x2="285.00" y2="720.70" stroke="#000" stroke-width="1.1" />
<line x1="308.40" y1="723.90" x2="308.40" y2="717.40" stroke="#000" stroke-width="1.1" />
<text x="43.00" y="727.90" font-family='"Liberation Serif", serif' font-size="13.6" text-anchor="end" font-weight="normal" font-style="normal" fill="#111" textLength="6.1" lengthAdjust="spacingAndGlyphs" >0</text>
<text x="43.00" y="686.50" font-family='"Liberation Serif", serif' font-size="13.6" text-anchor="end" font-weight="normal" font-style="normal" fill="#111" textLength="12.4" lengthAdjust="spacingAndGlyphs" >20</text>
<text x="43.00" y="645.10" font-family='"Liberation Serif", serif' font-size="13.6" text-anchor="end" font-weight="normal" font-style="normal" fill="#111" textLength="12.4" lengthAdjust="spacingAndGlyphs" >40</text>
<text x="43.00" y="603.70" font-family='"Liberation Serif", serif' font-size="13.6" text-anchor="end" font-weight="normal" font-style="normal" fill="#111" textLength="12.4" lengthAdjust="spacingAndGlyphs" >60</text>
<text x="43.00" y="562.30" font-family='"Liberation Serif", serif' font-size="13.6" text-anchor="end" font-weight="normal" font-style="normal" fill="#111" textLength="12.4" lengthAdjust="spacingAndGlyphs" >80</text>
<text x="74.70" y="741.80" font-family='"Liberation Serif", serif' font-size="13.8" text-anchor="middle" font-weight="normal" font-style="normal" fill="#111" textLength="11.2" lengthAdjust="spacingAndGlyphs" >10</text>
<text x="121.50" y="741.80" font-family='"Liberation Serif", serif' font-size="13.8" text-anchor="middle" font-weight="normal" font-style="normal" fill="#111" textLength="11.2" lengthAdjust="spacingAndGlyphs" >15</text>
<text x="168.30" y="741.80" font-family='"Liberation Serif", serif' font-size="13.8" text-anchor="middle" font-weight="normal" font-style="normal" fill="#111" textLength="11.2" lengthAdjust="spacingAndGlyphs" >20</text>
<text x="215.10" y="741.80" font-family='"Liberation Serif", serif' font-size="13.8" text-anchor="middle" font-weight="normal" font-style="normal" fill="#111" textLength="11.2" lengthAdjust="spacingAndGlyphs" >25</text>
<text x="261.90" y="741.80" font-family='"Liberation Serif", serif' font-size="13.8" text-anchor="middle" font-weight="normal" font-style="normal" fill="#111" textLength="11.2" lengthAdjust="spacingAndGlyphs" >30</text>
<text x="308.70" y="741.80" font-family='"Liberation Serif", serif' font-size="13.8" text-anchor="middle" font-weight="normal" font-style="normal" fill="#111" textLength="11.2" lengthAdjust="spacingAndGlyphs" >35</text>
<text x="192.00" y="763.20" font-family='"Liberation Serif", serif' font-size="17.3" text-anchor="middle" font-weight="normal" font-style="normal" fill="#000" textLength="178" lengthAdjust="spacing" stroke="#000" stroke-width="0.45">Day after leaf emergence</text>
<text x="23.20" y="618.60" font-family='"Liberation Serif", serif' font-size="17.6" text-anchor="middle" font-weight="normal" font-style="normal" fill="#000" transform="rotate(-90 23.20 618.60)" stroke="#000" stroke-width="0.4">Ion leakage (percent)</text>
<text x="6.00" y="519.00" font-family='"Liberation Serif", serif' font-size="18.4" text-anchor="start" font-weight="bold" font-style="normal" fill="#000" >e</text>
<path d="M74.40,708.17 C82.20,706.65 105.60,703.20 121.20,699.06 C136.80,694.92 152.40,693.06 168.00,683.33 C183.60,673.60 199.20,657.07 214.80,640.69 C230.40,624.30 246.00,601.70 261.60,585.00 C277.20,568.30 300.60,547.92 308.40,540.50" fill="none" stroke="#b4b4b4" stroke-width="1.4" stroke-dasharray="8 4.5 1.8 4.5"/>
<line x1="78.90" y1="710.29" x2="116.70" y2="708.95" stroke="#000" stroke-width="1.7" />
<line x1="125.67" y1="708.26" x2="163.53" y2="703.73" stroke="#000" stroke-width="1.7" />
<line x1="172.48" y1="702.78" x2="210.32" y2="699.27" stroke="#000" stroke-width="1.7" />
<line x1="219.27" y1="698.32" x2="257.13" y2="693.80" stroke="#000" stroke-width="1.7" />
<line x1="265.97" y1="692.20" x2="304.03" y2="682.94" stroke="#000" stroke-width="1.7" />
<line x1="74.40" y1="708.38" x2="74.40" y2="712.51" stroke="#000" stroke-width="1.0" />
<line x1="72.00" y1="708.38" x2="76.80" y2="708.38" stroke="#000" stroke-width="1.0" />
<line x1="72.00" y1="712.51" x2="76.80" y2="712.51" stroke="#000" stroke-width="1.0" />
<rect x="72.40" y="708.44" width="4.00" height="4.00" fill="#000" stroke="none" stroke-width="0" />
<line x1="121.20" y1="702.58" x2="121.20" y2="715.00" stroke="#000" stroke-width="1.0" />
<line x1="118.80" y1="702.58" x2="123.60" y2="702.58" stroke="#000" stroke-width="1.0" />
<line x1="118.80" y1="715.00" x2="123.60" y2="715.00" stroke="#000" stroke-width="1.0" />
<rect x="119.20" y="706.79" width="4.00" height="4.00" fill="#000" stroke="none" stroke-width="0" />
<line x1="168.00" y1="693.88" x2="168.00" y2="712.51" stroke="#000" stroke-width="1.0" />
<line x1="165.60" y1="693.88" x2="170.40" y2="693.88" stroke="#000" stroke-width="1.0" />
<line x1="165.60" y1="712.51" x2="170.40" y2="712.51" stroke="#000" stroke-width="1.0" />
<rect x="166.00" y="701.20" width="4.00" height="4.00" fill="#000" stroke="none" stroke-width="0" />
<line x1="214.80" y1="694.09" x2="214.80" y2="703.61" stroke="#000" stroke-width="1.0" />
<line x1="212.40" y1="694.09" x2="217.20" y2="694.09" stroke="#000" stroke-width="1.0" />
<line x1="212.40" y1="703.61" x2="217.20" y2="703.61" stroke="#000" stroke-width="1.0" />
<rect x="212.80" y="696.85" width="4.00" height="4.00" fill="#000" stroke="none" stroke-width="0" />
<line x1="261.60" y1="686.64" x2="261.60" y2="699.89" stroke="#000" stroke-width="1.0" />
<line x1="259.20" y1="686.64" x2="264.00" y2="686.64" stroke="#000" stroke-width="1.0" />
<line x1="259.20" y1="699.89" x2="264.00" y2="699.89" stroke="#000" stroke-width="1.0" />
<rect x="259.60" y="691.26" width="4.00" height="4.00" fill="#000" stroke="none" stroke-width="0" />
<line x1="308.40" y1="678.77" x2="308.40" y2="684.98" stroke="#000" stroke-width="1.0" />
<line x1="306.00" y1="678.77" x2="310.80" y2="678.77" stroke="#000" stroke-width="1.0" />
<line x1="306.00" y1="684.98" x2="310.80" y2="684.98" stroke="#000" stroke-width="1.0" />
<rect x="306.40" y="679.88" width="4.00" height="4.00" fill="#000" stroke="none" stroke-width="0" />
<line x1="74.40" y1="706.10" x2="74.40" y2="710.24" stroke="#000" stroke-width="1.0" />
<line x1="72.00" y1="706.10" x2="76.80" y2="706.10" stroke="#000" stroke-width="1.0" />
<line x1="72.00" y1="710.24" x2="76.80" y2="710.24" stroke="#000" stroke-width="1.0" />
<path d="M71.80,708.17 L74.40,705.37 L77.00,708.17 L74.40,710.97Z" fill="#000"/>
<line x1="121.20" y1="695.95" x2="121.20" y2="702.16" stroke="#000" stroke-width="1.0" />
<line x1="118.80" y1="695.95" x2="123.60" y2="695.95" stroke="#000" stroke-width="1.0" />
<line x1="118.80" y1="702.16" x2="123.60" y2="702.16" stroke="#000" stroke-width="1.0" />
<path d="M118.60,699.06 L121.20,696.26 L123.80,699.06 L121.20,701.86Z" fill="#000"/>
<line x1="168.00" y1="677.12" x2="168.00" y2="689.54" stroke="#000" stroke-width="1.0" />
<line x1="165.60" y1="677.12" x2="170.40" y2="677.12" stroke="#000" stroke-width="1.0" />
<line x1="165.60" y1="689.54" x2="170.40" y2="689.54" stroke="#000" stroke-width="1.0" />
<path d="M165.40,683.33 L168.00,680.53 L170.60,683.33 L168.00,686.13Z" fill="#000"/>
<line x1="214.80" y1="632.41" x2="214.80" y2="648.97" stroke="#000" stroke-width="1.0" />
<line x1="212.40" y1="632.41" x2="217.20" y2="632.41" stroke="#000" stroke-width="1.0" />
<line x1="212.40" y1="648.97" x2="217.20" y2="648.97" stroke="#000" stroke-width="1.0" />
<path d="M212.20,640.69 L214.80,637.89 L217.40,640.69 L214.80,643.49Z" fill="#000"/>
<line x1="261.60" y1="579.83" x2="261.60" y2="590.18" stroke="#000" stroke-width="1.0" />
<line x1="259.20" y1="579.83" x2="264.00" y2="579.83" stroke="#000" stroke-width="1.0" />
<line x1="259.20" y1="590.18" x2="264.00" y2="590.18" stroke="#000" stroke-width="1.0" />
<path d="M259.00,585.00 L261.60,582.20 L264.20,585.00 L261.60,587.80Z" fill="#000"/>
<line x1="308.40" y1="535.32" x2="308.40" y2="545.67" stroke="#000" stroke-width="1.0" />
<line x1="306.00" y1="535.32" x2="310.80" y2="535.32" stroke="#000" stroke-width="1.0" />
<line x1="306.00" y1="545.67" x2="310.80" y2="545.67" stroke="#000" stroke-width="1.0" />
<path d="M305.80,540.50 L308.40,537.70 L311.00,540.50 L308.40,543.30Z" fill="#000"/>
<rect x="81.20" y="580.40" width="89.40" height="47.70" fill="#fff" stroke="#000" stroke-width="1.2" />
<line x1="88.30" y1="593.00" x2="103.00" y2="593.00" stroke="#000" stroke-width="1.7" />
<line x1="114.00" y1="593.00" x2="126.90" y2="593.00" stroke="#000" stroke-width="1.7" />
<rect x="105.90" y="591.00" width="4.00" height="4.00" fill="#000" stroke="none" stroke-width="0" />
<line x1="88.3" y1="614.6" x2="126.9" y2="614.6" stroke="#b4b4b4" stroke-width="1.5" stroke-dasharray="6 3.5 2 3.5"/>
<path d="M105.2,614.6 L107.9,611.8 L110.6,614.6 L107.9,617.4Z" fill="#000"/>
<text x="131.50" y="598.40" font-family='"Liberation Serif", serif' font-size="17" text-anchor="start" font-weight="normal" font-style="normal" fill="#000" >WT</text>
<text x="131.50" y="618.00" font-family='"Liberation Serif", serif' font-size="15.1" text-anchor="start" font-weight="normal" font-style="italic" fill="#000" textLength="29.3" lengthAdjust="spacing" >egy1</text>
</g>
</svg></body></html>
